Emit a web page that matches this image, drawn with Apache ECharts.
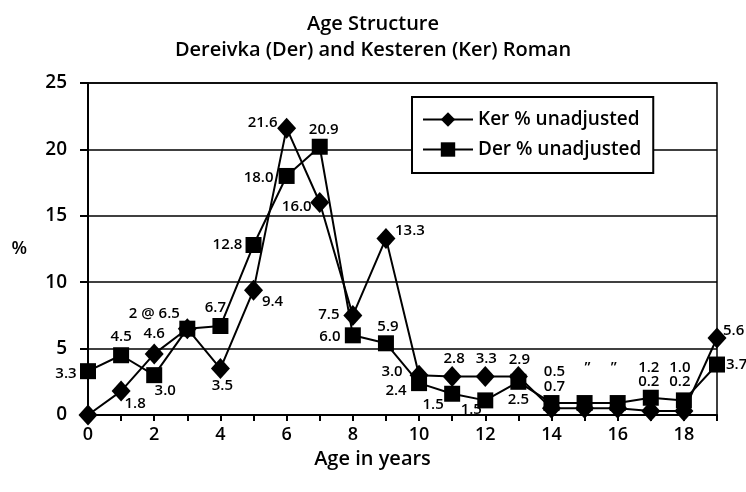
<!DOCTYPE html>
<html><head><meta charset="utf-8">
<script src="https://cdn.jsdelivr.net/npm/echarts@6/dist/echarts.min.js"></script>
<style>html,body{margin:0;padding:0;background:#fff}#c{width:746px;height:492px}</style>
</head><body><div id="c"></div>
<script>
const ages = ['0','1','2','3','4','5','6','7','8','9','10','11','12','13','14','15','16','17','18','19'];
const kerValues = [0, 1.8, 4.6, 6.5, 3.5, 9.4, 21.6, 16.0, 7.5, 13.3, 3.0, 2.9, 2.9, 2.9, 0.5, 0.5, 0.5, 0.3, 0.3, 5.8];
const derValues = [3.3, 4.5, 3.0, 6.5, 6.7, 12.8, 18.0, 20.2, 6.0, 5.4, 2.4, 1.6, 1.1, 2.5, 0.9, 0.9, 0.9, 1.3, 1.1, 3.8];
const kerLabels = ['', '1.8', '4.6', '2 @ 6.5', '3.5', '9.4', '21.6', '16.0', '7.5', '13.3', '3.0', '2.8', '3.3', '2.9', '0.5', '\u201D', '\u201D', '0.2', '0.2', '5.6'];
const derLabels = ['3.3', '4.5', '3.0', '', '6.7', '12.8', '18.0', '20.9', '6.0', '5.9', '2.4', '1.5', '1.5', '2.5', '0.7', '', '', '1.2', '1.0', '3.7'];
const yTicks = [0, 5, 10, 15, 20, 25];

const FONT = 'Open Sans';
const W = 600;
// label placement [dx, dy] of text centre relative to the point; third item 'L' = left-aligned text starting at dx
const kerPos = [null,[14,13],[0,-20],[-33,-15],[2,17],[19,12],[-24,-5],[-23,4],[-24,-1],[24,-8],[-27,-3],[2,-18],[1,-18],[1,-17],[3,-37],[3,-41],[-4,-41],[-2,-29],[-4,-29],[6,-7,'L']];
const derPos = [[-22,3],[0,-19],[11,16],null,[-5,-18],[-26,0],[-28,2],[4,-17],[-23,1],[2,-17],[-23,8],[-19,11],[-14,9],[0,18],[3,-16],null,null,[-2,-30],[-4,-33],[9,0,'L']];

function buildData(vals, labels, pos) {
  return vals.map((v, i) => {
    const p = pos[i];
    if (!p || !labels[i]) return { value: v, label: { show: false } };
    return { value: v, label: { show: true, formatter: labels[i], position: 'inside',
      offset: [p[0], p[1]], align: p[2] === 'L' ? 'left' : 'center' } };
  });
}

const chart = echarts.init(document.getElementById('c'), null, { renderer: 'canvas' });
chart.setOption({
  animation: false,
  textStyle: { fontFamily: FONT, color: '#000' },
  title: {
    text: 'Age Structure\nDereivka (Der) and Kesteren (Ker) Roman',
    left: 'center', top: 6,
    textStyle: { fontFamily: FONT, fontSize: 20, fontWeight: W, color: '#000', lineHeight: 26 }
  },
  legend: {
    left: 412, top: 97, orient: 'vertical',
    backgroundColor: '#fff', borderColor: '#000', borderWidth: 2,
    padding: [13, 12, 14, 10], itemGap: 11, itemWidth: 50, itemHeight: 18,
    textStyle: { fontFamily: FONT, fontSize: 19, fontWeight: W, color: '#000' },
    data: ['Ker % unadjusted', 'Der % unadjusted']
  },
  grid: { left: 88, right: 29, top: 83, bottom: 77, show: true, borderColor: '#000', borderWidth: 1.5 },
  xAxis: {
    type: 'category', data: ages, boundaryGap: false,
    name: 'Age in years', nameLocation: 'middle', nameGap: 25,
    nameTextStyle: { fontFamily: FONT, fontSize: 20, fontWeight: W, color: '#000', padding: [0, 60, 0, 0] },
    axisLine: { lineStyle: { color: '#000', width: 2 } },
    axisTick: { show: true, interval: 0, length: 6, lineStyle: { color: '#000', width: 2 } },
    axisLabel: { interval: 1, fontSize: 18, fontWeight: W, color: '#000', margin: 11, fontFamily: FONT },
    splitLine: { show: false }
  },
  yAxis: {
    type: 'value', min: yTicks[0], max: yTicks[yTicks.length - 1], interval: 5,
    name: '%', nameLocation: 'middle', nameGap: 61, nameRotate: 0,
    nameTextStyle: { fontFamily: FONT, fontSize: 18, fontWeight: W, color: '#000' },
    axisLine: { show: true, lineStyle: { color: '#000', width: 2 } },
    axisTick: { show: true, length: 8, lineStyle: { color: '#000', width: 2 } },
    axisLabel: { fontSize: 19, fontWeight: W, color: '#000', margin: 21, fontFamily: FONT },
    splitLine: { show: true, lineStyle: { color: '#000', width: 1.5 } }
  },
  series: [
    {
      name: 'Der % unadjusted', type: 'line', data: buildData(derValues, derLabels, derPos),
      symbol: 'rect', symbolSize: 16, color: '#000', showAllSymbol: true, clip: false,
      lineStyle: { color: '#000', width: 2 }, itemStyle: { color: '#000' },
      label: { fontSize: 15, fontWeight: W, color: '#000', fontFamily: FONT }, z: 3
    },
    {
      name: 'Ker % unadjusted', type: 'line', data: buildData(kerValues, kerLabels, kerPos),
      symbol: 'diamond', symbolSize: [19, 21], color: '#000', showAllSymbol: true, clip: false,
      lineStyle: { color: '#000', width: 2 }, itemStyle: { color: '#000' },
      label: { fontSize: 15, fontWeight: W, color: '#000', fontFamily: FONT }, z: 4
    }
  ]
});
</script></body></html>
